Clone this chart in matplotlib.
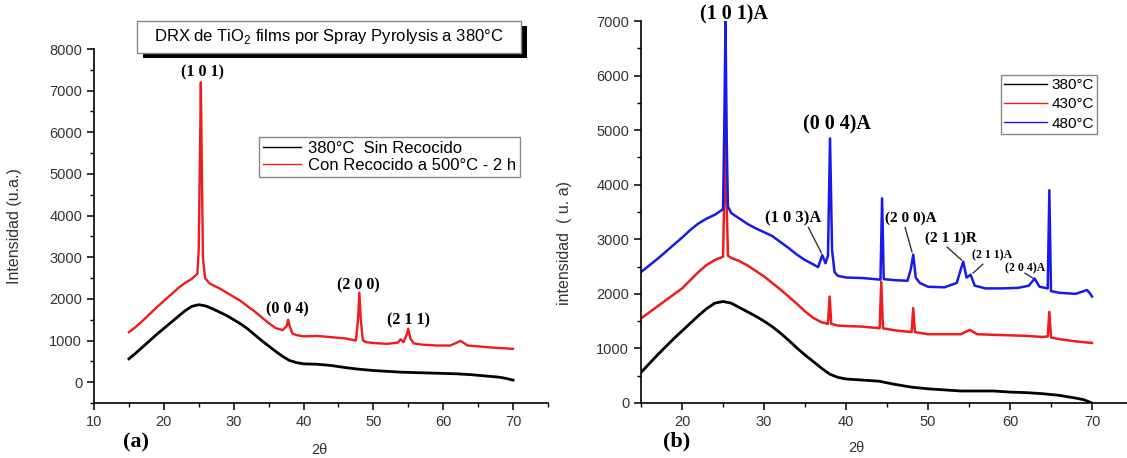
import matplotlib
matplotlib.use("Agg")
import matplotlib.pyplot as plt
from matplotlib.lines import Line2D
from matplotlib.patches import Rectangle
from matplotlib.ticker import MultipleLocator

plt.rcParams['font.family'] = ['Liberation Sans', 'DejaVu Sans']
plt.rcParams['mathtext.fontset'] = 'custom'
plt.rcParams['mathtext.rm'] = 'Liberation Sans'

# -----------------------------------------------------------------------------
# Data
# -----------------------------------------------------------------------------
# (a) 380 C as deposited
a_sin_x = [15, 16, 17, 18, 19, 20, 21, 22, 23, 24, 25, 26, 27, 28, 29, 30, 31, 32, 33, 34,
           35, 36, 37, 38, 39, 40, 42, 44, 46, 48, 50, 52, 54, 56, 58, 60, 62, 64, 66, 68, 69, 70]
a_sin_y = [560, 700, 850, 1000, 1150, 1290, 1430, 1570, 1710, 1820, 1860, 1830, 1760, 1680, 1600, 1500, 1400, 1280, 1140, 1000,
           870, 740, 620, 520, 470, 440, 430, 400, 350, 310, 280, 260, 240, 230, 220, 210, 200, 180, 150, 120, 90, 50]

# (a) annealed 500 C - 2 h
a_rec_x = [15, 16, 17, 18, 19, 20, 21, 22, 23, 24, 24.8, 25.0, 25.15, 25.3, 25.45, 25.6, 25.9, 26.5, 27,
           28, 29, 30, 31, 32, 33, 34, 35, 36, 37, 37.6, 37.8, 38.0, 38.4, 39, 40, 42, 44, 46,
           47.5, 47.8, 48.0, 48.2, 48.5, 49, 50, 52, 53.5, 53.9, 54.3, 54.8, 55.0, 55.3, 55.8,
           57, 59, 61, 62.5, 63.5, 65, 67, 69, 70]
a_rec_y = [1200, 1330, 1480, 1640, 1800, 1950, 2100, 2250, 2380, 2480, 2600, 3200, 5200, 7200, 5000, 3000, 2500, 2380, 2330,
           2250, 2150, 2050, 1950, 1820, 1700, 1560, 1420, 1300, 1250, 1350, 1500, 1350, 1170, 1130, 1100, 1110, 1080, 1050,
           1000, 1500, 2150, 1500, 1000, 960, 940, 920, 950, 1030, 960, 1150, 1280, 1050, 930,
           900, 880, 880, 990, 880, 860, 830, 810, 800]

# (b) 380 C
b_380_x = [15, 16, 17, 18, 19, 20, 21, 22, 23, 24, 25, 26, 27, 28, 29, 30, 31, 32, 33, 34,
           35, 36, 37, 38, 39, 40, 42, 44, 46, 48, 50, 52, 54, 56, 58, 60, 62, 64, 66, 68, 69, 70]
b_380_y = [560, 720, 880, 1030, 1180, 1320, 1460, 1600, 1730, 1830, 1860, 1830, 1750, 1670, 1590, 1500, 1400, 1280, 1150, 1010,
           880, 760, 640, 530, 470, 440, 420, 400, 340, 290, 260, 240, 220, 220, 220, 200, 190, 170, 140, 90, 60, 0]

# (b) 430 C
b_430_x = [15, 16, 17, 18, 19, 20, 21, 22, 23, 24, 25.0, 25.15, 25.3, 25.45, 25.6, 26, 27, 28, 29, 30,
           31, 32, 33, 34, 35, 36, 37, 37.8, 38.0, 38.2, 39, 40, 42, 44.1, 44.3, 44.5, 46, 48.0, 48.2, 48.4,
           50, 52, 54, 55.1, 56, 58, 60, 62, 64, 64.6, 64.8, 65.0, 66, 68, 70]
b_430_y = [1550, 1660, 1770, 1880, 1990, 2100, 2250, 2400, 2530, 2620, 2680, 3800, 5800, 3600, 2700, 2660, 2600, 2520, 2420, 2320,
           2200, 2080, 1950, 1820, 1680, 1560, 1480, 1450, 1950, 1450, 1420, 1410, 1400, 1370, 2220, 1370, 1330, 1300, 1740, 1300,
           1260, 1260, 1260, 1340, 1260, 1250, 1240, 1230, 1210, 1220, 1670, 1200, 1170, 1130, 1100]

# (b) 480 C
b_480_x = [15, 16, 17, 18, 19, 20, 21, 22, 23, 24, 25.0, 25.15, 25.3, 25.45, 25.6, 26, 27, 28, 29, 30,
           31, 32, 33, 34, 35, 36, 36.6, 37.1, 37.5, 37.8, 38.05, 38.3, 38.6, 39, 40, 42, 44.2, 44.4, 44.6,
           46, 47.5, 47.9, 48.2, 48.5, 49, 50, 52, 53.5, 54.0, 54.3, 54.7, 55.2, 55.7, 57, 59, 61, 62.3,
           63.0, 63.6, 64.6, 64.8, 65.0, 66, 68, 69.4, 69.8, 70]
b_480_y = [2400, 2520, 2640, 2770, 2900, 3030, 3170, 3290, 3380, 3450, 3550, 5000, 7000, 4800, 3600, 3480, 3380, 3280, 3200, 3130,
           3060, 2950, 2840, 2720, 2620, 2540, 2490, 2710, 2560, 2700, 4850, 2800, 2400, 2330, 2300, 2290, 2260, 3750, 2270,
           2250, 2240, 2450, 2720, 2300, 2200, 2130, 2120, 2200, 2450, 2590, 2300, 2350, 2150, 2100, 2100, 2110, 2150,
           2280, 2130, 2100, 3900, 2050, 2020, 2000, 2070, 2000, 1950]

# peak labels
a_labels = ["(1 0 1)", "(0 0 4)", "(2 0 0)", "(2 1 1)"]
a_label_x = [25.5, 37.7, 47.8, 55.1]
a_label_y = [7450, 1745, 2325, 1490]

b_labels = ["(1 0 1)A", "(0 0 4)A", "(1 0 3)A", "(2 0 0)A", "(2 1 1)R", "(2 1 1)A", "(2 0 4)A"]
b_label_x = [26.3, 38.9, 33.5, 47.9, 52.8, 57.8, 61.8]
b_label_y = [7120, 5100, 3390, 3390, 3020, 2710, 2470]
b_label_size = [14.5, 14.5, 12, 11, 11, 8.5, 8.5]
# leader lines: (start x, start y, end x, end y)
b_leaders = [(35.4, 3220, 37.0, 2750),
             (47.2, 3220, 48.05, 2765),
             (52.3, 2860, 54.1, 2620),
             (56.7, 2545, 55.5, 2380),
             (61.8, 2380, 62.8, 2290)]

TICK_COLOR = '#333333'
RED = '#ee1c1c'
BLUE = '#1a1ae6'


def style_axes(ax):
    for s in ['top', 'right']:
        ax.spines[s].set_visible(False)
    for s in ['left', 'bottom']:
        ax.spines[s].set_linewidth(1.2)
    ax.yaxis.set_major_locator(MultipleLocator(1000))
    ax.yaxis.set_minor_locator(MultipleLocator(500))
    ax.xaxis.set_major_locator(MultipleLocator(10))
    ax.xaxis.set_minor_locator(MultipleLocator(5))
    ax.tick_params(which='major', direction='out', length=5, width=1.1,
                   labelsize=10.5, labelcolor=TICK_COLOR)
    ax.tick_params(which='minor', direction='out', length=3, width=1.0)


fig = plt.figure(figsize=(11.27, 4.58), dpi=100)

# -----------------------------------------------------------------------------
# Panel (a)
# -----------------------------------------------------------------------------
ax_a = fig.add_axes([0.0834, 0.1201, 0.4028, 0.7729])
ax_a.plot(a_sin_x, a_sin_y, color='black', lw=2.0)
ax_a.plot(a_rec_x, a_rec_y, color=RED, lw=1.7)
ax_a.set_xlim(10, 75)
ax_a.set_ylim(-500, 8000)
style_axes(ax_a)
ax_a.set_yticks(range(0, 8001, 1000))
ax_a.set_ylabel("Intensidad (u.a.)", fontsize=11.5, color=TICK_COLOR)
ax_a.yaxis.set_label_coords(-0.158, 0.5)
ax_a.set_xlabel("2θ", fontsize=10.5, color=TICK_COLOR)
ax_a.xaxis.set_label_coords(0.496, -0.112)
ax_a.text(0.093, -0.112, "(a)", transform=ax_a.transAxes, ha='center', va='center',
          fontsize=16, fontweight='bold', family='Liberation Serif')

for lab, lx, ly in zip(a_labels, a_label_x, a_label_y):
    ax_a.text(lx, ly, lab, ha='center', va='center', fontsize=11.5, fontweight='bold',
              family='Liberation Serif', clip_on=False)

handles_a = [Line2D([], [], color='black', lw=1.0), Line2D([], [], color=RED, lw=1.0)]
leg_a = ax_a.legend(handles_a, ["380°C  Sin Recocido", "Con Recocido a 500°C - 2 h"],
                    loc='upper left', bbox_to_anchor=(0.363, 0.751), borderaxespad=0,
                    fontsize=12, handlelength=2.3, handletextpad=0.4, labelspacing=0.1,
                    borderpad=0.25, fancybox=False, framealpha=1)
leg_a.get_frame().set_edgecolor('#888888')
leg_a.get_frame().set_linewidth(1.0)

# title box with shadow
fig.patches.append(Rectangle((143 / 1127, 1 - 58 / 458), 384 / 1127, 32 / 458,
                             transform=fig.transFigure, facecolor='black', edgecolor='none', zorder=5))
fig.patches.append(Rectangle((137 / 1127, 1 - 53 / 458), 384 / 1127, 32 / 458,
                             transform=fig.transFigure, facecolor='white', edgecolor='#888888',
                             lw=1.0, zorder=6))
fig.text(329 / 1127, 1 - 37 / 458, "DRX de TiO$_2$ films por Spray Pyrolysis a 380°C",
         ha='center', va='center', fontsize=12, zorder=7)

# -----------------------------------------------------------------------------
# Panel (b)
# -----------------------------------------------------------------------------
ax_b = fig.add_axes([0.5688, 0.1201, 0.4312, 0.834])
ax_b.plot(b_380_x, b_380_y, color='black', lw=2.0)
ax_b.plot(b_430_x, b_430_y, color=RED, lw=1.8)
ax_b.plot(b_480_x, b_480_y, color=BLUE, lw=1.8)
ax_b.set_xlim(15, 74.27)
ax_b.set_ylim(0, 7000)
style_axes(ax_b)
ax_b.set_xticks(range(20, 71, 10))
ax_b.set_ylabel("intensidad  ( u. a)", fontsize=11.5, color=TICK_COLOR)
ax_b.yaxis.set_label_coords(-0.142, 0.42)
ax_b.set_xlabel("2θ", fontsize=10.5, color=TICK_COLOR)
ax_b.xaxis.set_label_coords(0.444, -0.1)
ax_b.text(0.074, -0.1, "(b)", transform=ax_b.transAxes, ha='center', va='center',
          fontsize=16, fontweight='bold', family='Liberation Serif')

for lab, lx, ly, fs in zip(b_labels, b_label_x, b_label_y, b_label_size):
    ax_b.text(lx, ly, lab, ha='center', va='center', fontsize=fs, fontweight='bold',
              family='Liberation Serif', clip_on=False)

for x0, y0, x1, y1 in b_leaders:
    ax_b.annotate('', xy=(x1, y1), xytext=(x0, y0),
                  arrowprops=dict(arrowstyle='-', color='#333333', lw=1.0,
                                  shrinkA=0, shrinkB=0))

handles_b = [Line2D([], [], color='black', lw=1.0), Line2D([], [], color=RED, lw=1.0),
             Line2D([], [], color=BLUE, lw=1.0)]
leg_b = ax_b.legend(handles_b, ["380°C", "430°C", "480°C"],
                    loc='upper left', bbox_to_anchor=(0.741, 0.859), borderaxespad=0,
                    fontsize=11, handlelength=2.8, handletextpad=0.3, labelspacing=0.35,
                    borderpad=0.2, fancybox=False, framealpha=1)
leg_b.get_frame().set_edgecolor('#888888')
leg_b.get_frame().set_linewidth(1.0)

fig.savefig("out.png", dpi=100)
